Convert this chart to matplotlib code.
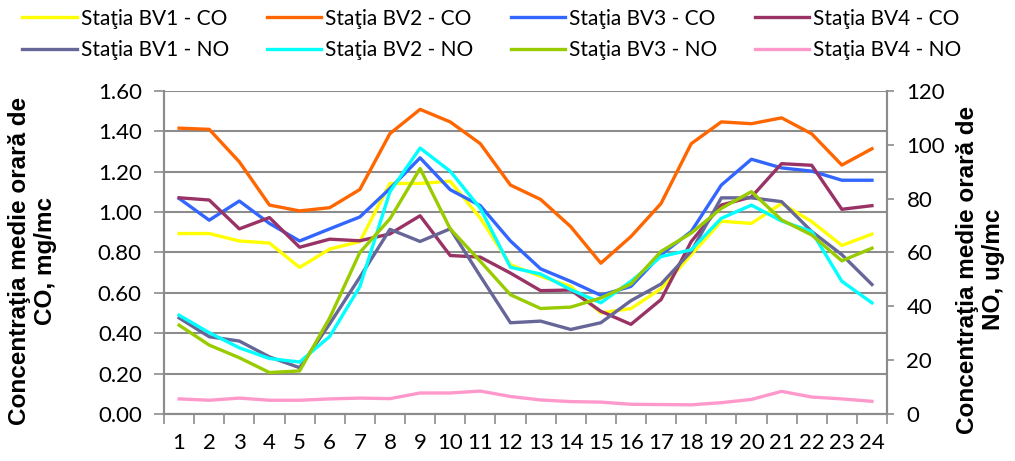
import numpy as np
import matplotlib.pyplot as plt

# ore 1..24
hours = np.arange(1, 25)
hour_labels = [str(h) for h in hours]

# CO, mg/mc (axa stanga)
co_bv1 = [0.894, 0.894, 0.857, 0.847, 0.726, 0.817, 0.854, 1.142, 1.142, 1.153, 0.97, 0.739,
          0.682, 0.632, 0.501, 0.522, 0.621, 0.789, 0.955, 0.944, 1.043, 0.953, 0.835, 0.891]
co_bv2 = [1.416, 1.41, 1.249, 1.035, 1.006, 1.022, 1.112, 1.389, 1.509, 1.447, 1.339, 1.134,
          1.063, 0.928, 0.747, 0.879, 1.043, 1.339, 1.447, 1.438, 1.467, 1.388, 1.233, 1.314]
co_bv3 = [1.068, 0.96, 1.055, 0.944, 0.857, 0.917, 0.976, 1.117, 1.269, 1.111, 1.032, 0.857,
          0.719, 0.657, 0.588, 0.632, 0.789, 0.904, 1.134, 1.262, 1.219, 1.203, 1.158, 1.158]
co_bv4 = [1.071, 1.06, 0.917, 0.973, 0.826, 0.866, 0.858, 0.892, 0.982, 0.785, 0.777, 0.698,
          0.611, 0.614, 0.509, 0.444, 0.567, 0.854, 1.035, 1.075, 1.24, 1.232, 1.014, 1.032]

# NO, ug/mc (axa dreapta)
no_bv1 = [35.7, 28.7, 27.1, 21.2, 17.2, 33.5, 50.8, 68.6, 64.1, 68.8, 51.2, 33.9,
          34.5, 31.4, 33.9, 42.1, 48.3, 60.4, 80.3, 80.3, 78.9, 67.8, 59.2, 48.1]
no_bv2 = [36.7, 30.2, 24.6, 20.6, 19.3, 28.8, 47.3, 82.6, 98.8, 90.2, 76.4, 54.5,
          52.0, 46.2, 41.3, 49.3, 58.5, 61.0, 72.7, 77.6, 71.7, 67.8, 49.3, 41.3]
no_bv3 = [33.0, 25.6, 20.9, 15.4, 16.0, 35.7, 60.0, 72.5, 91.2, 68.8, 56.7, 44.3,
          39.2, 39.7, 43.1, 48.3, 60.4, 67.2, 76.4, 82.6, 72.1, 66.5, 56.9, 61.6]
no_bv4 = [5.6, 5.1, 5.9, 5.1, 5.1, 5.6, 5.9, 5.7, 7.8, 7.8, 8.5, 6.5,
          5.2, 4.6, 4.4, 3.6, 3.5, 3.4, 4.2, 5.4, 8.4, 6.3, 5.6, 4.7]

co_series = [("Staţia BV1 - CO", co_bv1, "#FFFF00"),
             ("Staţia BV2 - CO", co_bv2, "#FF6600"),
             ("Staţia BV3 - CO", co_bv3, "#3366FF"),
             ("Staţia BV4 - CO", co_bv4, "#993366")]
no_series = [("Staţia BV1 - NO", no_bv1, "#666699"),
             ("Staţia BV2 - NO", no_bv2, "#00FFFF"),
             ("Staţia BV3 - NO", no_bv3, "#99CC00"),
             ("Staţia BV4 - NO", no_bv4, "#FF99CC")]

tick_font = "Lato"
grey = "#8c8c8c"

fig = plt.figure(figsize=(10.15, 4.61), dpi=100)
ax = fig.add_axes([0.1616, 0.102, 0.7123, 0.7006])
ax2 = ax.twinx()

co_lines = []
for name, vals, col in co_series:
    ln, = ax.plot(hours, vals, color=col, lw=2.4, label=name)
    co_lines.append(ln)
no_lines = []
for name, vals, col in no_series:
    ln, = ax2.plot(hours, vals, color=col, lw=2.4, label=name)
    no_lines.append(ln)

ax.set_xlim(0.5, 24.5)
ax.set_ylim(0, 1.6)
ax.set_yticks(np.arange(0, 1.61, 0.2))
ax.set_yticklabels([f"{v:.2f}" for v in np.arange(0, 1.61, 0.2)])
ax2.set_ylim(0, 120)
ax2.set_yticks(np.arange(0, 121, 20))

ax.set_xticks(np.arange(0.5, 25, 1))
ax.set_xticklabels([])
ax.set_xticks(hours, minor=True)
ax.set_xticklabels(hour_labels, minor=True)
ax.tick_params(axis="x", which="major", length=7, color=grey, width=1.2)
ax.tick_params(axis="x", which="minor", length=0, pad=14)
ax.tick_params(axis="y", length=7, color=grey, width=1.2, pad=9)
ax2.tick_params(axis="y", length=5, color=grey, width=1.2, pad=9)

for a in (ax, ax2):
    for lab in a.get_xticklabels(which="both") + a.get_yticklabels():
        lab.set_fontfamily(tick_font)
        lab.set_fontsize(16)
    a.spines["top"].set_visible(False)
    for s in ("left", "right", "bottom"):
        a.spines[s].set_color(grey)
        a.spines[s].set_linewidth(1.5)

ax.grid(axis="y", color=grey, lw=1.5)
ax.set_axisbelow(True)

fig.text(0.032, 0.433, "Concentraţia medie orară de\nCO, mg/mc", rotation=90,
         ha="center", va="center", fontsize=17.5, fontweight="bold",
         family="Liberation Sans", linespacing=1.15)
fig.text(0.966, 0.415, "Concentraţia medie orară de\nNO, ug/mc", rotation=90,
         ha="center", va="center", fontsize=17.5, fontweight="bold",
         family="Liberation Sans", linespacing=1.15)

handles = []
for c, n in zip(co_lines, no_lines):
    handles += [c, n]
fig.legend(handles=handles, labels=[h.get_label() for h in handles], ncol=4,
           loc="upper left", bbox_to_anchor=(0.018, 0.99), frameon=False,
           prop={"family": tick_font, "size": 15}, handlelength=2.6,
           handletextpad=0.2, columnspacing=1.8, labelspacing=0.55,
           borderpad=0.2, borderaxespad=0)

fig.savefig("out.png", dpi=100)
